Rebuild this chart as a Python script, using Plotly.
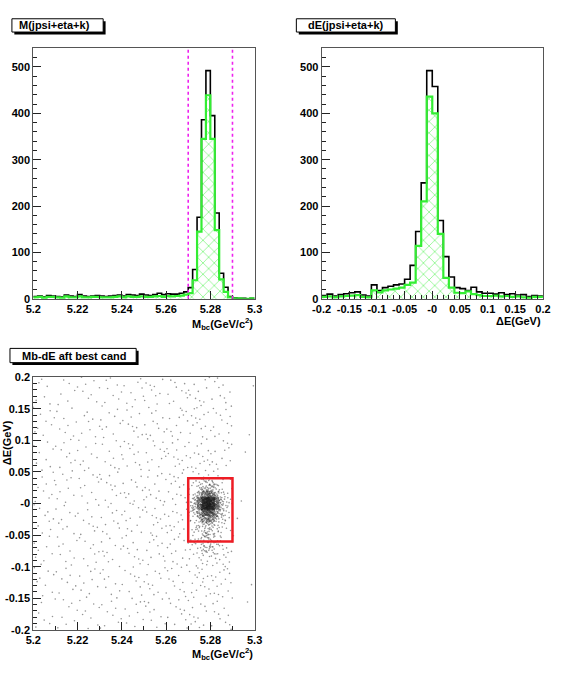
import numpy as np
import plotly.graph_objects as go

W, H = 582, 686

# ---------------- data ----------------
# M_bc histogram: 50 bins from 5.20 to 5.30
mbc_range = [5.20, 5.30]
mbc_all = [5, 6, 4, 7, 6, 5, 4, 8, 6, 5, 9, 6, 5, 6, 7, 6, 5, 6, 7, 8, 6, 9, 8, 7, 10, 8, 7, 9, 12, 9, 11, 10,
           10, 12, 15, 24, 63, 176, 386, 492, 395, 185, 55, 25, 5, 2, 1, 1, 0, 1]
mbc_sig = [3, 4, 2, 4, 4, 3, 2, 5, 3, 3, 5, 3, 3, 4, 4, 3, 3, 3, 4, 5, 3, 5, 4, 4, 5, 4, 4, 5, 6, 4, 6, 5,
           6, 7, 9, 12, 40, 145, 345, 439, 345, 148, 42, 15, 3, 1, 1, 0, 0, 1]

# Delta E histogram: 40 bins from -0.2 to 0.2
de_range = [-0.2, 0.2]
de_all = [7, 10, 6, 9, 11, 13, 15, 8, 6, 30, 18, 24, 27, 30, 32, 42, 72,
          145, 250, 492, 458, 169, 91, 47, 24, 22, 18, 25, 15, 12,
          12, 10, 13, 9, 11, 8, 9, 5, 7, 6]
de_sig = [4, 5, 3, 5, 6, 7, 8, 4, 3, 18, 14, 18, 20, 22, 24, 30, 35,
          114, 210, 436, 400, 140, 45, 24, 13, 12, 16, 10, 8, 6,
          6, 7, 5, 6, 4, 5, 3, 2, 4, 4]

# cut lines and signal box
mbc_cuts = [5.27, 5.29]
box_mbc = [5.27, 5.29]
box_de = [-0.06, 0.04]

# 2D scatter: background counts (rows dE -0.2..0.2 step 0.05, cols Mbc 5.20..5.30 step 0.01)
bg_mbc_edges = [5.20, 5.30]
bg_de_edges = [-0.2, 0.2]
bg_counts = [
    [7, 8, 8, 9, 9, 10, 11, 12, 11, 1],
    [8, 8, 9, 9, 10, 11, 12, 18, 16, 1],
    [8, 9, 9, 10, 11, 12, 13, 26, 22, 1],
    [9, 9, 10, 11, 12, 13, 15, 20, 18, 1],
    [9, 9, 10, 11, 12, 13, 15, 18, 16, 1],
    [8, 9, 9, 10, 11, 12, 13, 16, 14, 1],
    [8, 8, 9, 9, 10, 11, 12, 13, 12, 1],
    [7, 8, 8, 9, 9, 10, 11, 12, 11, 1],
]
# signal counts (rows dE -0.08..0.04 step 0.01, cols Mbc 5.270..5.290 step 0.002)
sig_mbc_edges = [5.270, 5.290]
sig_de_edges = [-0.08, 0.04]
sig_counts = [
    [0, 0, 1, 3, 4, 3, 1, 1, 0, 0],
    [0, 1, 1, 3, 4, 3, 2, 1, 0, 0],
    [0, 1, 2, 4, 4, 3, 1, 1, 0, 0],
    [0, 1, 2, 4, 6, 4, 2, 1, 0, 0],
    [0, 1, 2, 5, 7, 5, 2, 1, 0, 0],
    [1, 2, 7, 17, 22, 17, 7, 2, 1, 0],
    [1, 4, 13, 31, 40, 31, 13, 4, 2, 1],
    [2, 8, 28, 65, 83, 65, 28, 8, 3, 0],
    [2, 7, 25, 60, 76, 60, 26, 7, 3, 1],
    [1, 2, 9, 21, 27, 21, 9, 2, 1, 0],
    [0, 1, 3, 7, 8, 7, 3, 1, 0, 0],
    [0, 1, 2, 4, 4, 3, 1, 1, 0, 0],
]

mbc_tickvals = [5.2, 5.22, 5.24, 5.26, 5.28, 5.3]
mbc_ticktext = ["5.2", "5.22", "5.24", "5.26", "5.28", "5.3"]
de_tickvals = [-0.2, -0.15, -0.1, -0.05, 0, 0.05, 0.1, 0.15, 0.2]
de_ticktext = ["-0.2", "-0.15", "-0.1", "-0.05", "-0", "0.05", "0.1", "0.15", "0.2"]
cnt_tickvals = [0, 100, 200, 300, 400, 500]
cnt_ticktext = ["0", "100", "200", "300", "400", "500"]

# ---------------- helpers ----------------
def px(x):
    return x / W

def py(y):
    return 1 - y / H

def halton(i, b):
    f, r = 1.0, 0.0
    while i > 0:
        f /= b
        r += f * (i % b)
        i //= b
    return r

GREEN = "#33ee33"
FONT = "Liberation Sans"

fig = go.Figure()

def add_hist(rng, all_vals, sig_vals, xa, ya):
    n = len(all_vals)
    edges = np.linspace(rng[0], rng[1], n + 1)
    centers = 0.5 * (edges[:-1] + edges[1:])
    w = edges[1] - edges[0]
    fig.add_trace(go.Bar(
        x=centers, y=sig_vals, width=w, xaxis=xa, yaxis=ya,
        marker=dict(color="rgba(0,0,0,0)", line=dict(width=0),
                    pattern=dict(shape="x", fgcolor=GREEN, bgcolor="rgba(0,0,0,0)",
                                 size=8, solidity=0.22)),
        hoverinfo="skip"))
    fig.add_trace(go.Scatter(
        x=list(edges), y=list(all_vals) + [all_vals[-1]], xaxis=xa, yaxis=ya,
        mode="lines", line=dict(shape="hv", color="black", width=1.6), hoverinfo="skip"))
    fig.add_trace(go.Scatter(
        x=list(edges), y=list(sig_vals) + [sig_vals[-1]], xaxis=xa, yaxis=ya,
        mode="lines", line=dict(shape="hv", color=GREEN, width=2.2), hoverinfo="skip"))

add_hist(mbc_range, mbc_all, mbc_sig, "x", "y")
add_hist(de_range, de_all, de_sig, "x2", "y2")

# scatter points: each cell's count placed at deterministic low-discrepancy positions
sx, sy = [], []
cell_id = 0
for grid, xe, ye in [(bg_counts, bg_mbc_edges, bg_de_edges), (sig_counts, sig_mbc_edges, sig_de_edges)]:
    nr, nc = len(grid), len(grid[0])
    cw = (xe[1] - xe[0]) / nc
    rh = (ye[1] - ye[0]) / nr
    for r, row in enumerate(grid):
        for c, n in enumerate(row):
            cell_id += 1
            ox = (cell_id * 0.6180339887) % 1.0
            oy = (cell_id * 0.7548776662) % 1.0
            for k in range(n):
                ux = (halton(k + 1, 2) + ox) % 1.0
                uy = (halton(k + 1, 3) + oy) % 1.0
                sx.append(xe[0] + (c + ux) * cw)
                sy.append(ye[0] + (r + uy) * rh)

fig.add_trace(go.Scatter(x=sx, y=sy, xaxis="x3", yaxis="y3", mode="markers",
                         marker=dict(size=1.6, color="rgba(20,20,20,0.45)", line=dict(width=0)),
                         hoverinfo="skip"))

# ---------------- axes ----------------
tickfont = dict(family=FONT, size=11, color="black", weight="bold")

def axis(domain, rng, tv, tt, minor_dtick, minor_tick0, anchor):
    return dict(domain=domain, range=rng, tickmode="array", tickvals=tv, ticktext=tt,
                ticks="inside", ticklen=8, tickwidth=1, tickcolor="#222",
                minor=dict(tickmode="linear", tick0=minor_tick0, dtick=minor_dtick,
                           ticks="inside", ticklen=4, tickcolor="#222", showgrid=False),
                showline=True, linecolor="#555", linewidth=1, mirror=True,
                showgrid=False, zeroline=False, tickfont=tickfont, anchor=anchor)

dx1 = [px(25), px(253)]
dx2 = [px(322), px(550)]
dy_top = [py(298), py(42.7)]
dy_bot = [py(635), py(377.7)]

fig.update_layout(
    width=W, height=H, margin=dict(l=0, r=0, t=0, b=0),
    paper_bgcolor="white", plot_bgcolor="white", showlegend=False, bargap=0,
    barmode="overlay",
    xaxis=axis(dx1, mbc_range, mbc_tickvals, mbc_ticktext, 0.01, 5.2, "y"),
    yaxis=axis(dy_top, [0, 541], cnt_tickvals, cnt_ticktext, 20, 0, "x"),
    xaxis2=axis(dx2, de_range, de_tickvals, de_ticktext, 0.01, -0.2, "y2"),
    yaxis2=axis(dy_top, [0, 541], cnt_tickvals, cnt_ticktext, 20, 0, "x2"),
    xaxis3=axis(dx1, mbc_range, mbc_tickvals, mbc_ticktext, 0.01, 5.2, "y3"),
    yaxis3=axis(dy_bot, de_range, de_tickvals, de_ticktext, 0.01, -0.2, "x3"),
)

shapes = []
for c in mbc_cuts:
    shapes.append(dict(type="line", xref="x", yref="y domain", x0=c, x1=c, y0=0, y1=1,
                       line=dict(color="#ee22ee", width=1.6, dash="dot")))
shapes.append(dict(type="rect", xref="x3", yref="y3", x0=box_mbc[0], x1=box_mbc[1],
                   y0=box_de[0], y1=box_de[1], line=dict(color="#ee1c24", width=2.5)))

annotations = []
def title_box(x0, y0, x1, y1, text, tx):
    shapes.append(dict(type="rect", xref="paper", yref="paper", x0=px(x0 + 2.5), x1=px(x1 + 2.5),
                       y0=py(y1 + 2.5), y1=py(y0 + 2.5), fillcolor="black", line=dict(width=0)))
    shapes.append(dict(type="rect", xref="paper", yref="paper", x0=px(x0), x1=px(x1),
                       y0=py(y1), y1=py(y0), fillcolor="white", line=dict(color="black", width=1)))
    annotations.append(dict(xref="paper", yref="paper", x=px(tx), y=py((y0 + y1) / 2),
                            xanchor="left", yanchor="middle", showarrow=False, text=text,
                            font=dict(family=FONT, size=11, color="black", weight="bold")))

title_box(3, 13, 97, 26.5, "M(jpsi+eta+k)", 8)
title_box(296, 13, 398, 26.5, "dE(jpsi+eta+k)", 306)
title_box(1, 348.5, 131, 363, "Mb-dE aft best cand", 11)

lab_font = dict(family=FONT, size=11, color="black", weight="bold")
mbc_title = "M<sub>bc</sub>(GeV/c<sup>2</sup>)"
de_title = "ΔE(GeV)"
annotations.append(dict(xref="paper", yref="paper", x=px(253), y=py(324), xanchor="right",
                        yanchor="middle", showarrow=False, text=mbc_title, font=lab_font))
annotations.append(dict(xref="paper", yref="paper", x=px(550), y=py(321), xanchor="right",
                        yanchor="middle", showarrow=False, text=de_title, font=lab_font))
annotations.append(dict(xref="paper", yref="paper", x=px(253), y=py(660), xanchor="right",
                        yanchor="middle", showarrow=False, text=mbc_title, font=lab_font))
annotations.append(dict(xref="paper", yref="paper", x=px(-2), y=py(445), xanchor="center",
                        yanchor="middle", showarrow=False, text=de_title, textangle=-90,
                        font=lab_font))

fig.update_layout(shapes=shapes, annotations=annotations)

fig.write_html("out.html")
